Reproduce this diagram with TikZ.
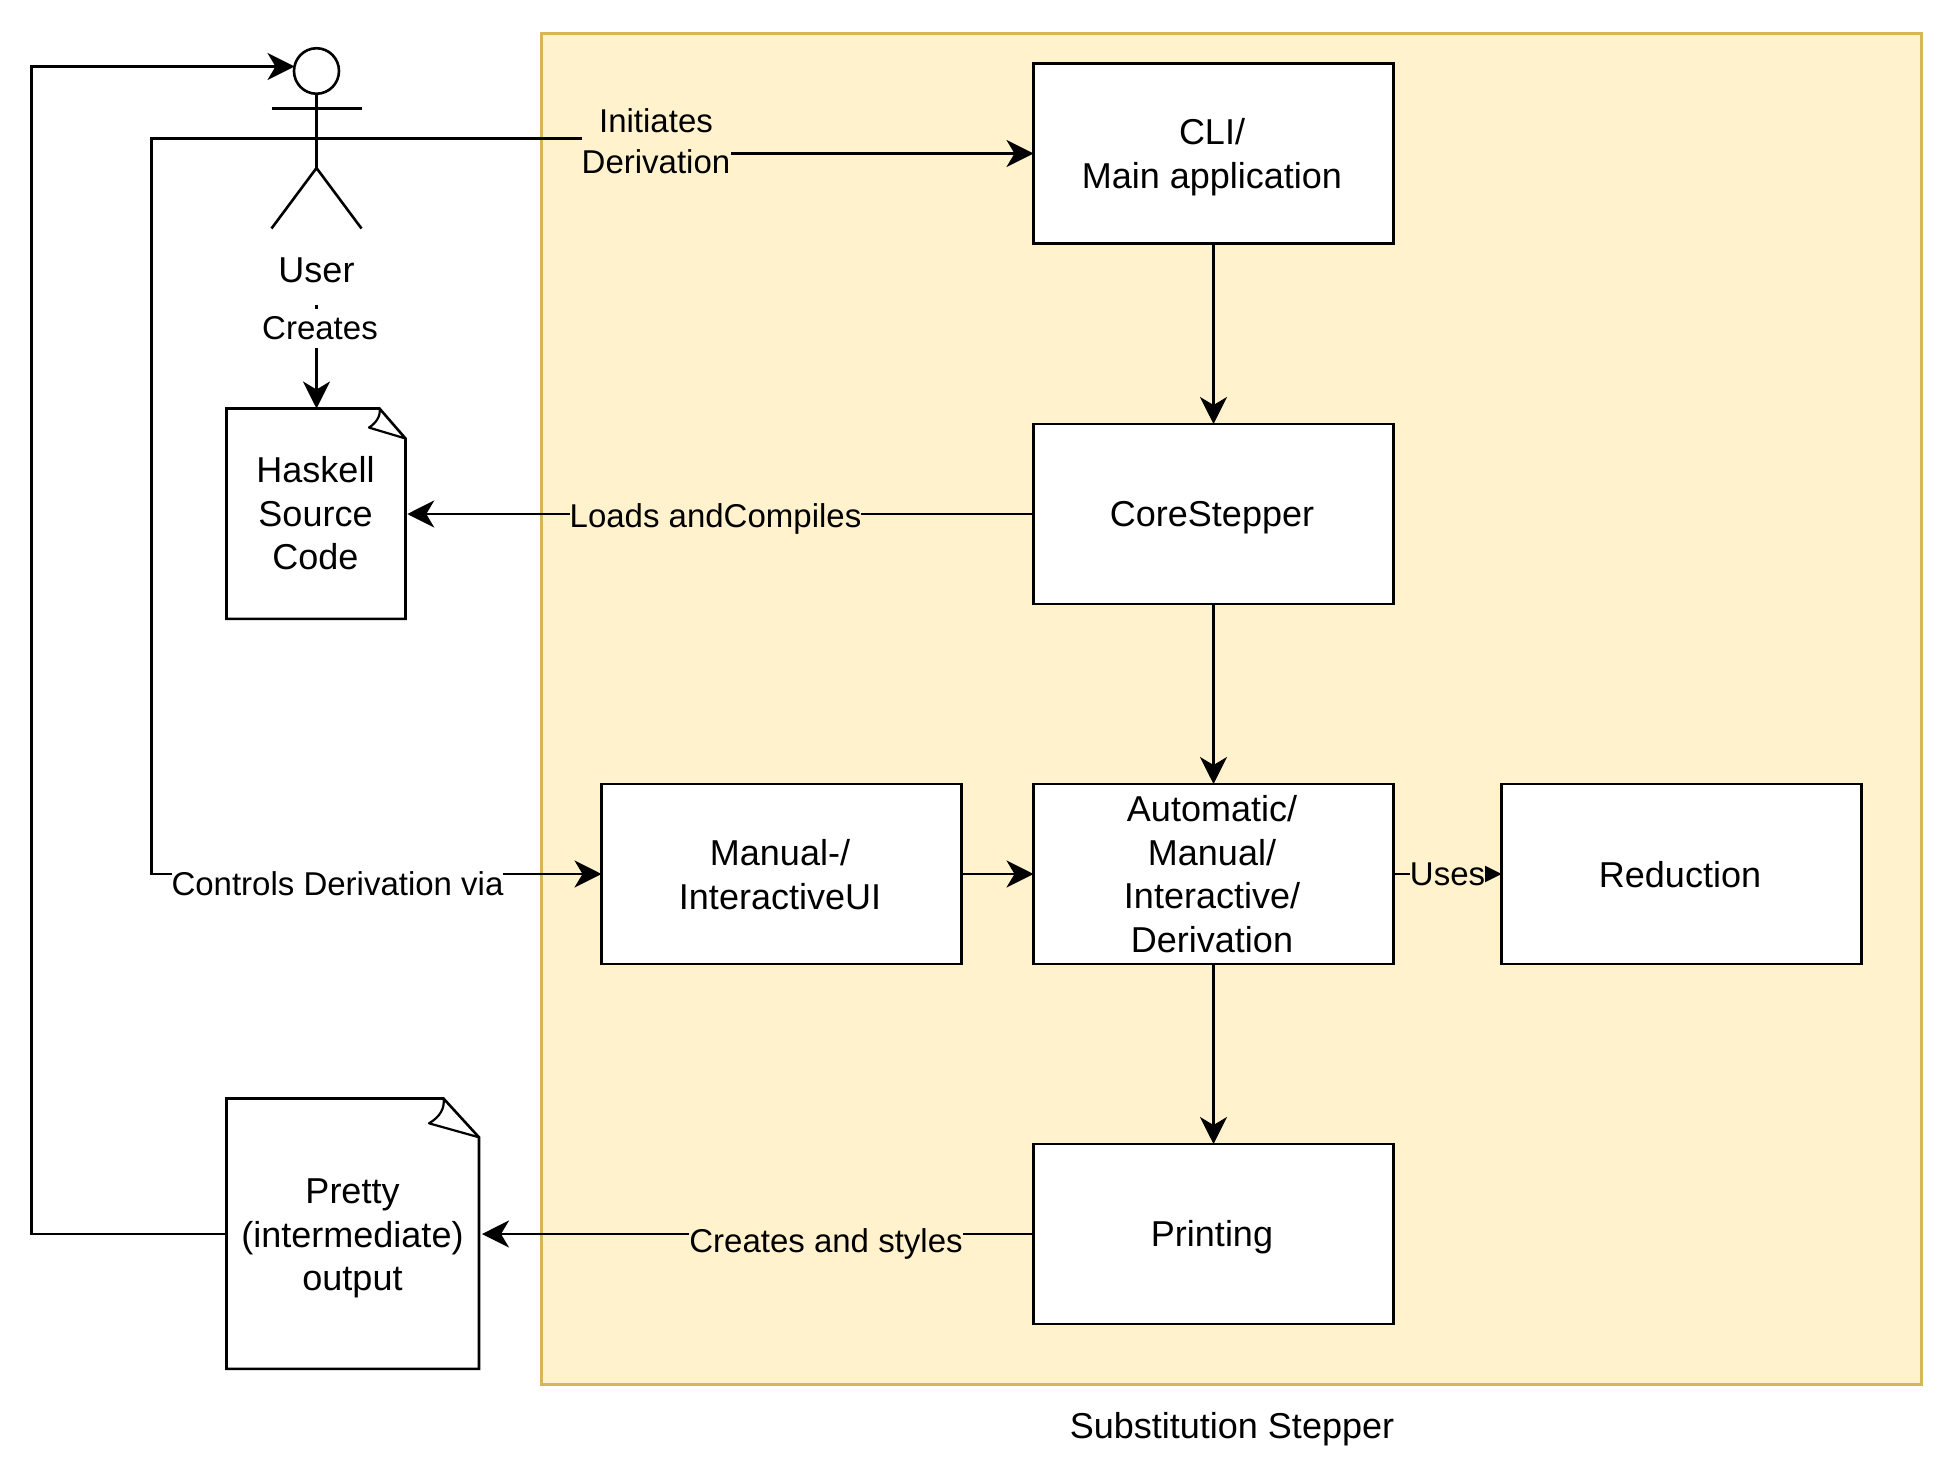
\documentclass[tikz,border=0pt]{standalone}
\usepackage{fontspec}
\setmainfont{Liberation Sans}
\usetikzlibrary{arrows.meta,shapes.geometric}
\definecolor{groupfill}{HTML}{FFF2CC}
\definecolor{groupline}{HTML}{D6B656}
\tikzset{
  x=1pt,y=-1pt,
  boxtext/.style={font=\fontsize{36}{43.5}\selectfont,align=center,inner sep=0pt,outer sep=0pt},
  stepbox/.style={draw=black,fill=white,minimum width=360,minimum height=180,inner sep=0pt,outer sep=0pt},
  edgelabel/.style={font=\fontsize{33}{41}\selectfont,align=center,inner sep=0pt,outer sep=0pt},
  conn/.style={draw=black,-{Stealth[length=27pt,width=27pt,inset=8pt]}},
}
\begin{document}
\begin{tikzpicture}[line width=2.6pt]
\useasboundingbox (0,0) rectangle (1953,1458);
% group
\node[draw=groupline,fill=groupfill,line width=3pt,minimum width=1380.5,minimum height=1350,inner sep=0pt,outer sep=0pt] (group) at (1231.25,709) {};
\node[boxtext] (grouplabel) at (1232,1429) {Substitution Stepper};
% boxes
\node[stepbox] (cli) at (1213.5,153.5) {};
\node[stepbox] (core) at (1213.5,514) {};
\node[stepbox] (auto) at (1213.5,874) {};
\node[stepbox] (print) at (1213.5,1234) {};
\node[stepbox] (manual) at (781.5,874) {};
\node[stepbox] (reduction) at (1681.5,874) {};
\node[boxtext] (clitext) at (1212,157) {CLI/\\Main application};
\node[boxtext] (coretext) at (1212,517.5) {CoreStepper};
\node[boxtext] (autotext) at (1212,874) {Automatic/\\Manual/\\Interactive/\\Derivation};
\node[boxtext] (printtext) at (1212,1237) {Printing};
\node[boxtext] (manualtext) at (780,874.5) {Manual-/\\InteractiveUI};
\node[boxtext] (reductiontext) at (1680,874.5) {Reduction};
% documents
\node[boxtext,minimum width=179.5,minimum height=211] (haskell) at (316,514) {};
\node[boxtext] (haskelltext) at (315.5,513.5) {Haskell\\Source\\Code};
\draw (226.5,408.5) -- (379.5,408.5) -- (405.5,438.5) -- (405.5,618.8) -- (226.5,618.8) -- cycle;
\draw[line width=2.2pt,line join=round] (379.5,408.5) .. controls (381,416) and (376,423) .. (369,427.6) -- (405.5,438.5);
\node[boxtext,minimum width=252.5,minimum height=270.5] (pretty) at (352.75,1234) {};
\node[boxtext] (prettytext) at (352.5,1238.5) {Pretty\\(intermediate)\\output};
\draw (226.5,1098.5) -- (443.5,1098.5) -- (479,1137.3) -- (479,1368.8) -- (226.5,1368.8) -- cycle;
\draw[line width=2.2pt,line join=round] (443.5,1098.5) .. controls (445,1108) and (440,1117) .. (429,1123.3) -- (479,1137.3);
% actor
\node[draw=black,ellipse,minimum width=45,minimum height=45.5,inner sep=0pt,outer sep=0pt] (head) at (316.5,71) {};
\coordinate (hip) at (316.5,168);
\coordinate (armL) at (271.5,108.5);
\coordinate (armR) at (361.5,108.5);
\coordinate (footL) at (271.5,228.5);
\coordinate (footR) at (361.5,228.5);
\coordinate (belowfeet) at (316.5,240);
\coordinate (waist) at (316.5,138.5);
\coordinate (headin) at (294.5,66.5);
\draw (head.south) -- (hip);
\draw (armL) -- (armR);
\draw (footL) -- (hip) -- (footR);
% connectors
\draw[conn] (cli) -- (core);
\draw[conn] (core) -- (auto);
\draw[conn] (auto) -- (print);
\draw[conn] (manual) -- (auto);
\draw[conn] (auto) -- (reduction);
\draw[conn,shorten >=1.5pt] (core) -- (haskell.east);
\draw[conn,shorten >=3pt] (print) -- (pretty.east);
\draw[conn] (pretty.west) -- (31.5,1234) -- (31.5,66.5) -- (headin);
\draw[conn] (waist) -- (656,138.5) -- (656,153.5) -- (cli.west);
\draw[conn] (waist) -- (151.7,138.5) -- (151.7,874) -- (manual.west);
\draw[conn] (belowfeet) -- (haskell.north -| belowfeet);
% labels over the connectors
\node[boxtext,fill=white,minimum width=76,minimum height=69] (user) at (316.5,270.5) {User};
\node[edgelabel,fill=white,minimum height=39] (creates) at (320,328.5) {Creates};
\node[edgelabel,fill=groupfill,minimum width=149] (initiates) at (656,141.5) {Initiates\\Derivation};
\node[edgelabel,fill=groupfill,minimum height=37] (loads) at (715.5,519) {Loads andCompiles};
\node[edgelabel,fill=white,minimum height=37] (controls) at (337.5,884) {Controls Derivation via};
\node[edgelabel,fill=groupfill,minimum height=37] (styles) at (826,1244) {Creates and styles};
\node[edgelabel,fill=groupfill,minimum width=75,minimum height=37] (uses) at (1447.5,874) {Uses};
\end{tikzpicture}
\end{document}
